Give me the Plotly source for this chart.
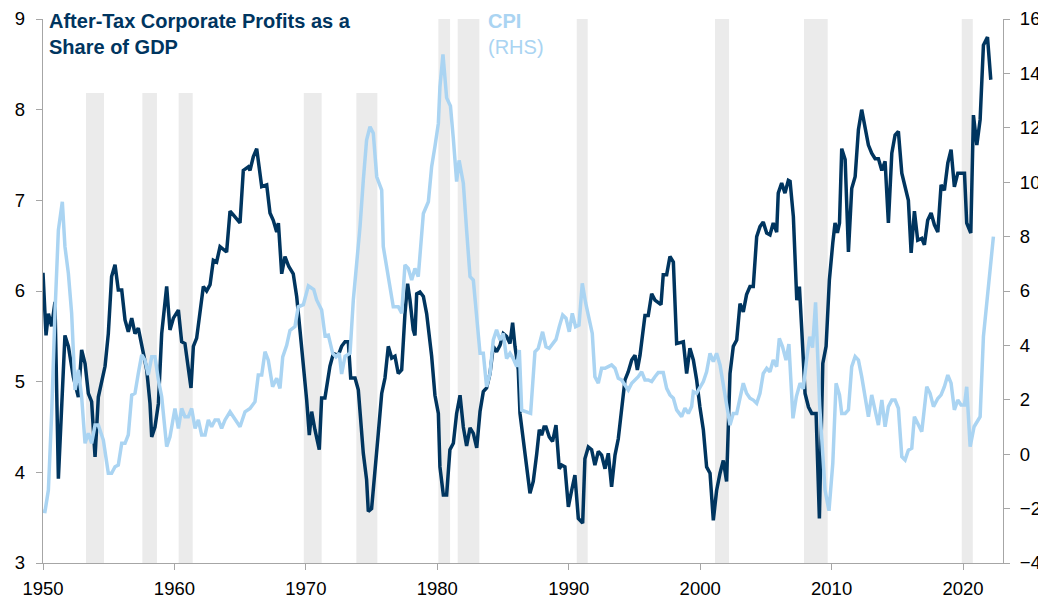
import plotly.graph_objects as go

# ---------------- data ----------------
profit_years = [1950.0, 1950.23, 1950.41, 1950.66, 1950.91, 1951.17, 1951.67, 1951.93, 1952.31, 1952.69,
    1952.94, 1953.2, 1953.45, 1953.7, 1953.96, 1954.21, 1954.72, 1954.97, 1955.22, 1955.48,
    1955.73, 1955.99, 1956.24, 1956.49, 1956.75, 1957.0, 1957.25, 1957.63, 1957.89, 1958.14,
    1958.27, 1958.52, 1958.78, 1959.03, 1959.41, 1959.66, 1959.92, 1960.3, 1960.55, 1960.8,
    1961.26, 1961.44, 1961.69, 1962.2, 1962.45, 1962.71, 1962.96, 1963.21, 1963.47, 1963.97,
    1964.23, 1964.48, 1964.99, 1965.24, 1965.62, 1965.75, 1966.0, 1966.26, 1966.64, 1967.02,
    1967.27, 1967.52, 1967.78, 1967.91, 1968.16, 1968.41, 1968.7, 1969.04, 1969.3, 1969.55,
    1969.81, 1970.06, 1970.26, 1970.44, 1970.69, 1971.02, 1971.2, 1971.45, 1971.83, 1972.09,
    1972.47, 1972.72, 1972.98, 1973.23, 1973.41, 1973.74, 1973.99, 1974.12, 1974.37, 1974.62,
    1974.75, 1975.0, 1975.26, 1975.51, 1975.77, 1976.02, 1976.27, 1976.53, 1976.78, 1977.03,
    1977.29, 1977.54, 1977.74, 1977.92, 1978.17, 1978.3, 1978.43, 1978.68, 1978.94, 1979.19,
    1979.57, 1979.82, 1980.08, 1980.2, 1980.46, 1980.71, 1980.96, 1981.22, 1981.47, 1981.73,
    1981.98, 1982.23, 1982.49, 1982.74, 1983.0, 1983.25, 1983.5, 1983.75, 1984.01, 1984.26,
    1984.51, 1984.77, 1985.02, 1985.27, 1985.53, 1985.73, 1985.91, 1986.16, 1986.29, 1986.67,
    1986.92, 1987.05, 1987.3, 1987.56, 1987.76, 1987.94, 1988.12, 1988.27, 1988.52, 1988.77,
    1989.03, 1989.28, 1989.46, 1989.71, 1989.97, 1990.22, 1990.47, 1990.73, 1991.06, 1991.23,
    1991.49, 1991.74, 1991.99, 1992.25, 1992.5, 1992.76, 1993.01, 1993.26, 1993.52, 1993.77,
    1994.02, 1994.28, 1994.53, 1994.79, 1995.04, 1995.22, 1995.42, 1995.8, 1996.05, 1996.31,
    1996.56, 1997.02, 1997.19, 1997.45, 1997.7, 1997.96, 1998.21, 1998.72, 1998.97, 1999.22,
    1999.48, 1999.73, 1999.98, 2000.24, 2000.49, 2000.75, 2001.0, 2001.25, 2001.51, 2001.76,
    2002.01, 2002.27, 2002.52, 2002.78, 2003.03, 2003.28, 2003.53, 2003.79, 2004.04, 2004.3,
    2004.55, 2004.8, 2005.06, 2005.31, 2005.56, 2005.82, 2005.94, 2006.2, 2006.45, 2006.71,
    2006.84, 2007.09, 2007.35, 2007.55, 2007.73, 2007.98, 2008.24, 2008.49, 2008.82, 2008.92,
    2009.07, 2009.17, 2009.33, 2009.58, 2009.83, 2010.09, 2010.26, 2010.44, 2010.6, 2010.77,
    2011.03, 2011.28, 2011.53, 2011.79, 2012.04, 2012.29, 2012.55, 2012.8, 2013.05, 2013.31,
    2013.56, 2013.82, 2014.07, 2014.32, 2014.58, 2014.83, 2015.08, 2015.34, 2015.59, 2015.84,
    2016.05, 2016.3, 2016.55, 2016.86, 2017.06, 2017.31, 2017.57, 2017.82, 2018.08, 2018.33,
    2018.58, 2018.84, 2019.09, 2019.34, 2019.6, 2019.85, 2020.11, 2020.28, 2020.59, 2020.79,
    2021.05, 2021.3, 2021.55, 2021.86, 2022.11]
profit_values = [6.2, 5.51, 5.75, 5.61, 5.88, 3.93, 5.51, 5.39, 5.05, 4.83,
    5.35, 5.2, 4.87, 4.78, 4.17, 4.83, 5.17, 5.53, 6.16, 6.29,
    6.01, 6.01, 5.68, 5.55, 5.7, 5.53, 5.59, 5.31, 5.13, 4.76,
    4.39, 4.5, 4.76, 5.53, 6.05, 5.57, 5.7, 5.79, 5.44, 5.42,
    4.93, 5.39, 5.48, 6.05, 6.0, 6.07, 6.34, 6.32, 6.49, 6.43,
    6.88, 6.84, 6.75, 7.33, 7.37, 7.33, 7.48, 7.57, 7.15, 7.17,
    6.86, 6.78, 6.65, 6.75, 6.19, 6.38, 6.27, 6.19, 5.94, 5.57,
    5.2, 4.8, 4.41, 4.67, 4.47, 4.25, 4.82, 4.82, 5.17, 5.31,
    5.29, 5.39, 5.44, 5.44, 5.04, 5.04, 4.91, 4.65, 4.21, 3.92,
    3.57, 3.6, 3.99, 4.43, 4.87, 5.04, 5.39, 5.26, 5.28, 5.09,
    5.13, 5.75, 6.08, 5.9, 5.57, 5.51, 5.97, 5.99, 5.94, 5.75,
    5.28, 4.85, 4.65, 4.06, 3.75, 3.75, 4.25, 4.32, 4.65, 4.85,
    4.5, 4.29, 4.49, 4.43, 4.27, 4.67, 4.89, 4.93, 5.09, 5.39,
    5.33, 5.4, 5.53, 5.5, 5.42, 5.65, 5.39, 5.13, 4.65, 4.25,
    3.92, 3.77, 3.9, 4.2, 4.47, 4.41, 4.5, 4.5, 4.39, 4.34,
    4.52, 4.04, 4.08, 4.06, 3.62, 3.8, 3.97, 3.49, 3.44, 4.15,
    4.28, 4.25, 4.08, 4.23, 4.19, 4.04, 4.21, 3.84, 4.19, 4.37,
    4.69, 5.02, 5.11, 5.24, 5.29, 5.13, 5.29, 5.73, 5.73, 5.97,
    5.9, 5.85, 6.18, 6.18, 6.38, 6.32, 5.42, 5.44, 5.09, 5.37,
    5.24, 5.02, 4.72, 4.47, 4.06, 3.99, 3.47, 3.8, 3.99, 4.13,
    3.9, 5.09, 5.39, 5.46, 5.86, 5.77, 5.96, 6.05, 6.05, 6.6,
    6.71, 6.76, 6.64, 6.62, 6.75, 6.65, 7.08, 7.19, 7.08, 7.22,
    7.21, 6.82, 5.9, 6.05, 5.57, 4.87, 4.72, 4.65, 4.65, 4.1,
    3.49, 4.17, 5.2, 5.39, 6.12, 6.53, 6.75, 6.64, 6.75, 7.57,
    7.45, 6.43, 7.13, 7.26, 7.78, 8.0, 7.81, 7.61, 7.52, 7.46,
    7.46, 7.33, 7.43, 6.75, 7.52, 7.72, 7.76, 7.3, 7.15, 7.0,
    6.42, 6.88, 6.56, 6.58, 6.51, 6.78, 6.86, 6.73, 6.65, 7.17,
    7.11, 7.41, 7.56, 7.15, 7.3, 7.3, 7.3, 6.75, 6.64, 7.94,
    7.61, 7.89, 8.71, 8.8, 8.33]

cpi_years = [1950.0, 1950.15, 1950.41, 1950.66, 1950.91, 1951.17, 1951.47, 1951.67, 1951.93, 1952.18,
    1952.44, 1952.69, 1952.94, 1953.2, 1953.45, 1953.7, 1953.96, 1954.21, 1954.59, 1954.97,
    1955.22, 1955.48, 1955.73, 1955.99, 1956.24, 1956.49, 1956.75, 1957.0, 1957.25, 1957.51,
    1957.76, 1958.01, 1958.27, 1958.52, 1958.78, 1959.03, 1959.41, 1959.66, 1960.04, 1960.3,
    1960.55, 1960.8, 1961.06, 1961.31, 1961.57, 1961.82, 1962.07, 1962.33, 1962.58, 1962.83,
    1963.09, 1963.34, 1963.59, 1963.85, 1964.23, 1964.61, 1964.99, 1965.37, 1965.75, 1966.13,
    1966.38, 1966.64, 1966.89, 1967.14, 1967.47, 1967.78, 1968.03, 1968.24, 1968.54, 1968.79,
    1969.17, 1969.42, 1969.81, 1970.19, 1970.6, 1970.82, 1971.2, 1971.46, 1971.71, 1972.04,
    1972.29, 1972.54, 1972.72, 1972.98, 1973.36, 1973.61, 1973.86, 1974.12, 1974.37, 1974.62,
    1974.88, 1975.13, 1975.39, 1975.77, 1975.89, 1976.15, 1976.4, 1976.65, 1977.03, 1977.29,
    1977.54, 1977.79, 1978.05, 1978.3, 1978.55, 1978.94, 1979.32, 1979.57, 1979.82, 1980.08,
    1980.2, 1980.43, 1980.71, 1981.0, 1981.22, 1981.47, 1981.66, 1981.98, 1982.23, 1982.49,
    1982.74, 1983.0, 1983.25, 1983.5, 1983.75, 1984.01, 1984.26, 1984.51, 1984.77, 1985.02,
    1985.27, 1985.53, 1985.78, 1986.04, 1986.24, 1986.42, 1986.8, 1987.1, 1987.43, 1987.68,
    1988.01, 1988.27, 1988.52, 1988.77, 1989.03, 1989.28, 1989.54, 1989.79, 1990.04, 1990.27,
    1990.52, 1990.78, 1991.03, 1991.29, 1991.54, 1991.79, 1991.99, 1992.25, 1992.5, 1992.76,
    1993.01, 1993.26, 1993.52, 1993.77, 1994.02, 1994.28, 1994.53, 1994.79, 1995.04, 1995.29,
    1995.55, 1995.8, 1996.05, 1996.31, 1996.56, 1996.81, 1997.19, 1997.45, 1997.7, 1997.96,
    1998.21, 1998.59, 1998.84, 1999.1, 1999.35, 1999.48, 1999.73, 1999.98, 2000.24, 2000.49,
    2000.75, 2001.0, 2001.25, 2001.51, 2001.89, 2002.27, 2002.52, 2002.78, 2003.03, 2003.28,
    2003.53, 2003.79, 2004.04, 2004.3, 2004.55, 2004.8, 2005.06, 2005.31, 2005.56, 2005.82,
    2006.02, 2006.27, 2006.53, 2006.75, 2007.06, 2007.32, 2007.6, 2007.85, 2008.1, 2008.33,
    2008.55, 2008.78, 2009.09, 2009.3, 2009.5, 2009.8, 2010.09, 2010.34, 2010.6, 2010.77,
    2011.03, 2011.28, 2011.53, 2011.79, 2012.04, 2012.29, 2012.55, 2012.8, 2013.05, 2013.31,
    2013.56, 2013.82, 2014.07, 2014.32, 2014.58, 2014.83, 2015.08, 2015.34, 2015.59, 2015.84,
    2016.1, 2016.3, 2016.55, 2016.86, 2017.24, 2017.49, 2017.75, 2018.08, 2018.33, 2018.58,
    2018.84, 2019.09, 2019.34, 2019.6, 2019.85, 2020.11, 2020.28, 2020.54, 2020.84, 2021.1,
    2021.3, 2021.55, 2021.93, 2022.31]
cpi_values = [-2.1, -2.11, -1.32, 1.5, 5.18, 8.24, 9.28, 7.63, 6.65, 5.18,
    2.36, 3.1, 2.11, 0.4, 0.77, 0.4, 1.07, 1.07, 0.52, -0.7,
    -0.7, -0.46, -0.4, 0.4, 0.4, 0.71, 2.17, 2.24, 2.97, 3.65,
    3.46, 2.91, 3.58, 3.58, 2.73, 2.11, 0.28, 0.64, 1.68, 0.95,
    1.68, 1.38, 1.38, 1.68, 0.95, 1.26, 0.71, 0.71, 1.26, 1.01,
    1.26, 1.26, 0.95, 1.26, 1.56, 1.26, 1.01, 1.56, 1.68, 1.93,
    2.91, 2.91, 3.77, 3.46, 2.48, 2.79, 2.42, 3.58, 4.0, 4.55,
    4.69, 5.42, 5.5, 6.19, 6.05, 5.67, 5.3, 4.35, 4.38, 3.71,
    3.58, 3.71, 2.95, 3.6, 3.71, 5.67, 6.89, 8.36, 10.08, 11.55,
    12.04, 11.8, 10.2, 9.71, 7.63, 6.89, 6.28, 5.42, 5.42, 5.18,
    6.96, 6.83, 6.4, 6.83, 6.53, 8.85, 9.28, 10.57, 11.31, 12.16,
    13.5, 14.7, 13.1, 12.8, 11.6, 10.02, 10.8, 9.96, 8.24, 6.53,
    6.4, 5.18, 3.71, 3.71, 2.48, 2.97, 4.2, 4.57, 4.2, 4.44,
    3.52, 3.71, 3.52, 3.22, 3.83, 1.62, 1.56, 1.5, 3.77, 3.89,
    4.5, 3.95, 3.89, 4.08, 4.22, 4.69, 5.12, 5.0, 4.5, 5.18,
    4.69, 4.75, 6.28, 5.55, 4.93, 4.44, 2.85, 2.61, 3.16, 3.16,
    3.22, 3.28, 3.16, 2.79, 2.73, 2.54, 2.36, 2.61, 2.73, 2.85,
    3.03, 2.73, 2.73, 2.67, 2.85, 3.0, 3.0, 2.42, 2.18, 2.06,
    1.63, 1.38, 1.69, 1.5, 1.75, 2.3, 2.24, 2.48, 2.67, 3.03,
    3.71, 3.4, 3.71, 3.28, 2.24, 1.07, 1.5, 1.5, 2.06, 2.61,
    2.24, 2.06, 1.99, 1.87, 2.24, 2.97, 3.16, 3.03, 3.46, 3.22,
    4.26, 3.95, 3.46, 4.05, 1.32, 2.12, 2.61, 2.4, 3.5, 4.32,
    3.92, 5.58, 1.8, -0.09, -1.32, -2.08, -0.34, 2.61, 2.18, 1.5,
    1.5, 1.63, 3.22, 3.59, 3.46, 2.85, 2.12, 1.38, 2.18, 1.63,
    1.07, 1.99, 1.01, 1.75, 1.99, 1.99, 1.69, -0.09, -0.21, 0.15,
    0.22, 1.38, 1.13, 0.83, 2.48, 2.24, 1.75, 2.05, 2.18, 2.48,
    2.91, 2.61, 1.63, 1.99, 1.81, 1.81, 2.48, 0.28, 1.01, 1.2,
    1.38, 4.32, 6.16, 8.0]

rec_start = [1953.27, 1957.56, 1960.32, 1969.84, 1973.84, 1980.08, 1981.55, 1990.61, 2001.13, 2007.9, 2019.9]
rec_end = [1954.64, 1958.67, 1961.39, 1971.2, 1975.44, 1980.97, 1983.2, 1991.44, 2002.2, 2009.7, 2020.74]

x_ticks = [1950, 1960, 1970, 1980, 1990, 2000, 2010, 2020]
left_ticks = [3, 4, 5, 6, 7, 8, 9]
right_ticks = [-4, -2, 0, 2, 4, 6, 8, 10, 12, 14, 16]

title_left = "<b>After-Tax Corporate Profits as a<br>Share of GDP</b>"
title_right = "<b>CPI</b><br>(RHS)"

# ---------------- style ----------------
DARK = "#00355F"
LIGHT = "#AAD4F2"
GREY_BAR = "#EBEBEB"
AXIS = "#A6A6A6"
FONT = "Liberation Sans, Arial, sans-serif"
TICK_SIZE = 18.5

fig = go.Figure()

fig.add_trace(go.Scatter(x=profit_years, y=profit_values, mode="lines",
                         line=dict(color=DARK, width=3.5), yaxis="y", showlegend=False))
fig.add_trace(go.Scatter(x=cpi_years, y=cpi_values, mode="lines",
                         line=dict(color=LIGHT, width=3.5), yaxis="y2", showlegend=False))

shapes = []
for s, e in zip(rec_start, rec_end):
    top = 1.0 if s >= 1980 else 0.864
    shapes.append(dict(type="rect", xref="x", yref="paper", x0=s, x1=e, y0=0, y1=top,
                       fillcolor=GREY_BAR, line=dict(width=0), layer="below"))

# page body has an 8px default margin; size/margins compensate for it
fig.update_layout(
    width=1038, height=590,
    margin=dict(l=35, r=43, t=11, b=35, autoexpand=False),
    paper_bgcolor="white", plot_bgcolor="white",
    font=dict(family=FONT, size=TICK_SIZE, color="#000000"),
    shapes=shapes,
    xaxis=dict(range=[1950, 2023.04], tickvals=x_ticks, ticks="outside", ticklen=6,
               tickcolor=AXIS, showline=True, linecolor=AXIS, linewidth=1.3,
               showgrid=False, zeroline=False, tickfont=dict(size=TICK_SIZE),
               ticklabelstandoff=3, automargin=False),
    yaxis=dict(range=[3, 9], tickvals=left_ticks, ticks="outside", ticklen=6,
               tickcolor=AXIS, showline=True, linecolor=AXIS, linewidth=1.3,
               showgrid=False, zeroline=False, tickfont=dict(size=TICK_SIZE),
               ticklabelstandoff=7, automargin=False),
    yaxis2=dict(range=[-4, 16], tickvals=right_ticks, overlaying="y", side="right",
                ticks="outside", ticklen=6, tickcolor=AXIS, showline=True,
                linecolor=AXIS, linewidth=1.3, showgrid=False, zeroline=False,
                tickfont=dict(size=TICK_SIZE), ticklabelstandoff=6, automargin=False),
    annotations=[
        dict(text=title_left, xref="paper", yref="paper", x=0.004, y=1.02,
             xanchor="left", yanchor="top", showarrow=False, align="left",
             font=dict(family=FONT, size=20, color=DARK)),
        dict(text=title_right, xref="paper", yref="paper", x=0.461, y=1.02,
             xanchor="left", yanchor="top", showarrow=False, align="left",
             font=dict(family=FONT, size=20, color=LIGHT)),
    ],
)

fig.write_html("out.html")
